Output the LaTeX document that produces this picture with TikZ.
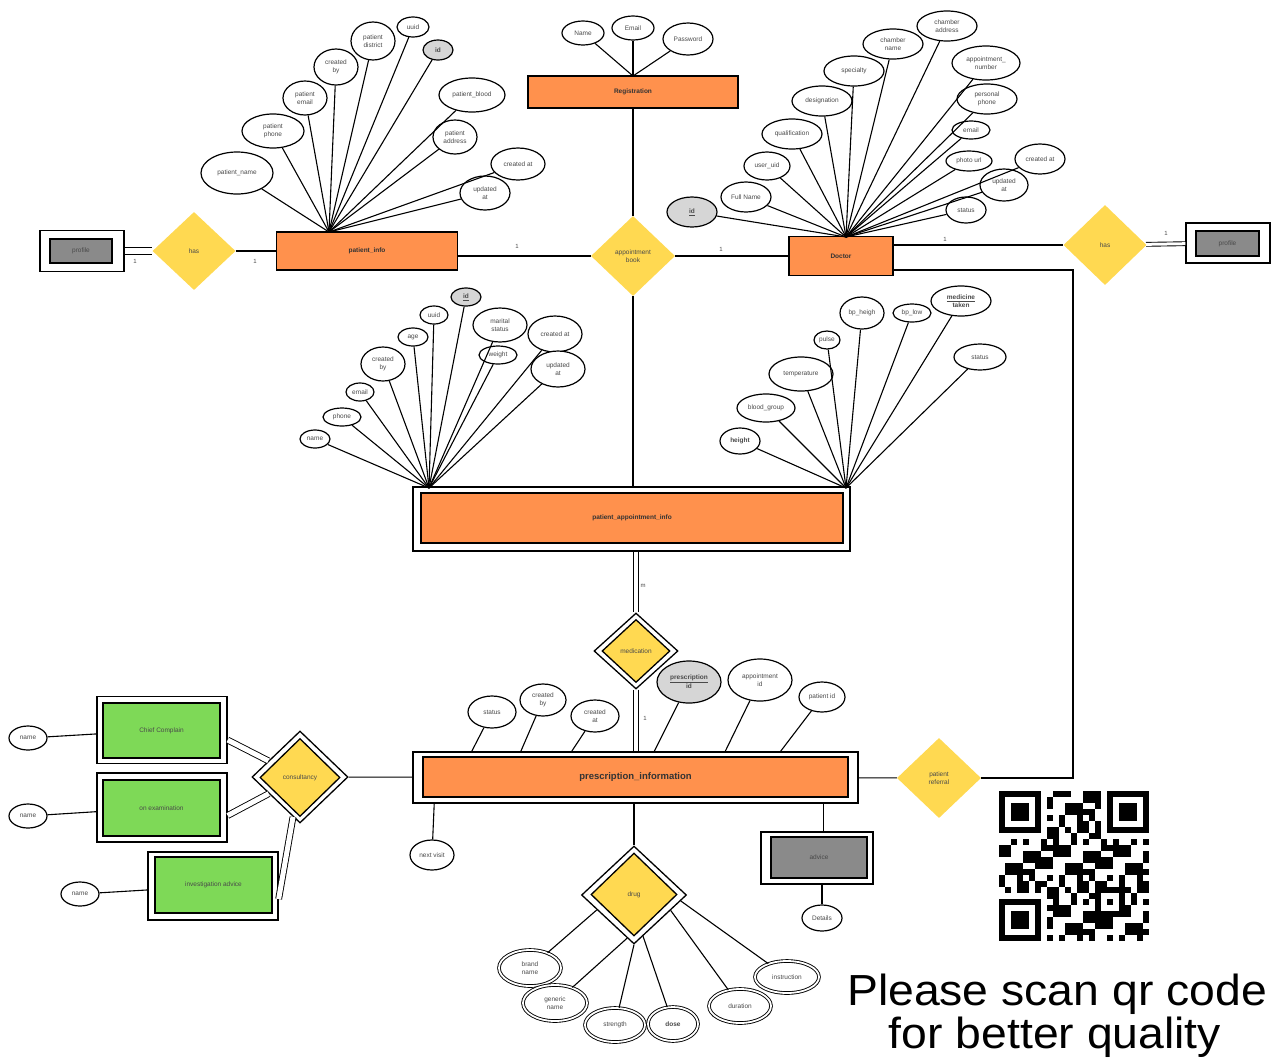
\documentclass[tikz,border=0pt]{standalone}
\usepackage{fontspec}
\setmainfont{Liberation Sans}
\newfontfamily\bigfont[FakeStretch=1.065]{Liberation Sans}
\usetikzlibrary{shapes.geometric,calc}
\definecolor{ora}{HTML}{FF914D}
\definecolor{gold}{HTML}{FFD951}
\definecolor{grn}{HTML}{7ED957}
\definecolor{dgray}{HTML}{8A8A8A}
\definecolor{lgray}{HTML}{D6D6D6}
\definecolor{txt}{HTML}{4A4A4A}
\tikzset{
  sz/.style 2 args={minimum width=#1pt, minimum height=#2pt},
  attr/.style={ellipse, draw, line width=1.2pt, fill=white, inner sep=0pt, align=center, font=\fontsize{6.5}{7.5}\selectfont, text=txt},
  pk/.style={fill=lgray},
  dattr/.style={ellipse, draw, line width=0.9pt, double, double distance=1.8pt, fill=white, inner sep=0pt, align=center, font=\fontsize{6.5}{7.5}\selectfont, text=txt},
  ent/.style={rectangle, draw, line width=1.3pt, fill=ora, inner sep=0pt, font=\bfseries\fontsize{6.5}{7.5}\selectfont, text=black!80},
  wbox/.style={rectangle, draw, line width=1.3pt, fill=white, inner sep=0pt},
  gbox/.style={rectangle, draw, line width=1.3pt, fill=dgray, inner sep=0pt, font=\fontsize{6.5}{7.5}\selectfont, text=txt},
  gnbox/.style={rectangle, draw, line width=1.3pt, fill=grn, inner sep=0pt, font=\fontsize{6.5}{7.5}\selectfont, text=txt},
  rel/.style={diamond, fill=gold, inner sep=0pt, align=center, font=\fontsize{6.5}{7.5}\selectfont, text=txt},
  wdia/.style={diamond, draw, line width=1.3pt, fill=white, inner sep=0pt},
  idia/.style={diamond, draw, line width=1.3pt, fill=gold, inner sep=0pt, align=center, font=\fontsize{6.5}{7.5}\selectfont, text=txt},
  conn/.style={line width=1.1pt},
  dconn/.style={line width=0.9pt, double, double distance=#1},
  dconn/.default=4pt,
  card/.style={font=\fontsize{6}{7}\selectfont, text=txt},
  bigtxt/.style={font=\bigfont\fontsize{43.5}{48}\selectfont, anchor=base, inner sep=0pt}
}
\begin{document}
\begin{tikzpicture}[x=1pt,y=-1pt]
\fill[white] (0,0) rectangle (1277,1061);
\useasboundingbox (0,0) rectangle (1277,1061);

% ---------------- patient_info ----------------
\node[wbox, sz={84}{41}] (lprof) at (82,251) {};
\node[gbox, sz={62}{24}] (lprofi) at (81,251) {profile};
\node[rel, sz={83}{78}] (lhas) at (194,251) {has};
\node[ent, sz={181}{38}] (pinfo) at (367,251) {patient\_info};
\draw[dconn=6pt] (lprof) -- (lhas);
\node[card] (c1) at (135,261) {1};
\draw[conn] (lhas) -- (pinfo);
\node[card] (c2) at (255,261) {1};

\coordinate (pih) at (329,232);
\node[attr, sz={72}{42}] (pa1) at (237,173) {patient\_name};
\node[attr, sz={62}{34}] (pa2) at (273,131) {patient\\phone};
\node[attr, sz={44}{34}] (pa3) at (305,98) {patient\\email};
\node[attr, sz={44}{36}] (pa4) at (336,67) {created\\by};
\node[attr, sz={44}{38}] (pa5) at (373,41) {patient\\district};
\node[attr, sz={32}{20}] (pa6) at (413,27) {uuid};
\node[attr, pk, sz={30}{20}] (pa7) at (438,50) {\textbf{id}};
\node[attr, sz={66}{34}] (pa8) at (472,95) {patient\_blood};
\node[attr, sz={44}{34}] (pa9) at (455,137) {patient\\address};
\node[attr, sz={54}{32}] (pa10) at (518,164) {created at};
\node[attr, sz={50}{34}] (pa11) at (485,193) {updated\\at};
\foreach \n in {pa1,pa2,pa3,pa4,pa5,pa6,pa7,pa8,pa9,pa10,pa11}
  \draw[conn] (pih) -- (\n);

% ---------------- Registration ----------------
\node[ent, sz={210}{32}] (reg) at (633,92) {Registration};
\coordinate (regh) at (633,76);
\node[attr, sz={42}{24}] (ra1) at (583,33) {Name};
\node[attr, sz={42}{24}] (ra2) at (633,28) {Email};
\node[attr, sz={50}{32}] (ra3) at (688,39) {Password};
\foreach \n in {ra1,ra2,ra3} \draw[conn] (regh) -- (\n);

% ---------------- appointment book ----------------
\node[rel, sz={84}{80}] (ab) at (633,256) {appointment\\book};
\draw[conn] (reg) -- (ab);
\draw[conn] (pinfo.east |- ab) -- (ab);
\node[card] (c3) at (517,246) {1};

% ---------------- Doctor ----------------
\node[ent, sz={104}{39}] (doc) at (841,256) {Doctor};
\draw[conn] (ab) -- (doc);
\node[card] (c4) at (721,249) {1};
\coordinate (doch) at (846,237);
\node[attr, pk, sz={50}{30}] (d1) at (692,212) {\underline{\textbf{id}}};
\node[attr, sz={50}{30}] (d2) at (746,197) {Full Name};
\node[attr, sz={46}{28}] (d3) at (767,166) {user\_uid};
\node[attr, sz={60}{30}] (d4) at (792,134) {qualification};
\node[attr, sz={60}{30}] (d5) at (822,101) {designation};
\node[attr, sz={60}{30}] (d6) at (854,71) {specialty};
\node[attr, sz={60}{30}] (d7) at (893,44) {chamber\\name};
\node[attr, sz={60}{30}] (d8) at (947,26) {chamber\\address};
\node[attr, sz={68}{34}] (d9) at (986,63) {appointment\_\\number};
\node[attr, sz={60}{30}] (d10) at (987,99) {personal\\phone};
\node[attr, sz={38}{18}] (d11) at (971,130) {email};
\node[attr, sz={46}{20}] (d12) at (969,161) {photo url};
\node[attr, sz={50}{30}] (d13) at (1040,159) {created at};
\node[attr, sz={48}{32}] (d14) at (1004,185) {updated\\at};
\node[attr, sz={40}{26}] (d15) at (966,210) {status};
\foreach \n in {d1,d2,d3,d4,d5,d6,d7,d8,d9,d10,d11,d12,d13,d14,d15}
  \draw[conn] (doch) -- (\n);

% right profile
\node[rel, sz={83}{80}] (rhas) at (1105,245) {has};
\draw[conn] (doc.east |- rhas) -- (rhas);
\node[card] (c5) at (945,239) {1};
\node[wbox, sz={84}{40}] (rprof) at (1228,243) {};
\node[gbox, sz={63}{25}] (rprofi) at (1227.5,243.5) {profile};
\draw[dconn=3pt] (rhas) -- (rprof);
\node[card] (c6) at (1166,233) {1};

% ---------------- patient_appointment_info ----------------
\node[wbox, sz={437}{64}] (pai) at (631.5,519) {};
\node[ent, sz={422}{50}] (paii) at (632,518) {patient\_appointment\_info};
\draw[conn] (ab) -- (ab |- pai.north);

\coordinate (plh) at (429,488);
\node[attr, sz={30}{18}] (pl1) at (315,439) {name};
\node[attr, sz={38}{18}] (pl2) at (342,417) {phone};
\node[attr, sz={28}{18}] (pl3) at (360,392) {email};
\node[attr, sz={44}{34}] (pl4) at (383,364) {created\\by};
\node[attr, sz={30}{18}] (pl5) at (413,337) {age};
\node[attr, sz={28}{18}] (pl6) at (434,315) {uuid};
\node[attr, pk, sz={30}{18}] (pl7) at (466,297) {\underline{\textbf{id}}};
\node[attr, sz={54}{34}] (pl8) at (500,325) {marital\\status};
\node[attr, sz={38}{18}] (pl9) at (498,355) {weight};
\node[attr, sz={54}{36}] (pl10) at (555,334) {created at};
\node[attr, sz={54}{36}] (pl11) at (558,369) {updated\\at};
\foreach \n in {pl1,pl2,pl3,pl4,pl5,pl6,pl7,pl8,pl9,pl10,pl11}
  \draw[conn] (plh) -- (\n);

\coordinate (prh) at (846,488);
\node[attr, sz={40}{26}] (pr1) at (740,441) {\textbf{height}};
\node[attr, sz={58}{28}] (pr2) at (766,408) {blood\_group};
\node[attr, sz={64}{34}] (pr3) at (801,374) {temperature};
\node[attr, sz={26}{18}] (pr4) at (827,340) {pulse};
\node[attr, sz={44}{32}] (pr5) at (862,313) {bp\_heigh};
\node[attr, sz={38}{18}] (pr6) at (912,313) {bp\_low};
\node[attr, sz={60}{30}] (pr7) at (961,301) {\textbf{\underline{medicine}}\\\textbf{taken}};
\node[attr, sz={52}{26}] (pr8) at (980,357) {status};
\foreach \n in {pr1,pr2,pr3,pr4,pr5,pr6,pr7,pr8}
  \draw[conn] (prh) -- (\n);

% ---------------- medication ----------------
\node[wdia, sz={84}{76}] (med) at (636,651) {};
\node[idia, sz={68}{63}] (medi) at (636,651) {medication};
\draw[dconn=4pt] (med |- pai.south) -- (med);
\node[card] (c7) at (643,586) {m};

% ---------------- prescription_information ----------------
\node[wbox, sz={445}{51}] (preso) at (635.5,777.5) {};
\node[ent, sz={425}{40}, font=\bfseries\fontsize{9.5}{11}\selectfont] (pres) at (635.5,777) {prescription\_information};
\draw[dconn=4pt] (med) -- (med |- preso.north);
\node[card] (c8) at (645,718) {1};

\node[attr, sz={48}{32}] (ps1) at (492,712) {status};
\node[attr, sz={46}{32}] (ps2) at (543,700) {created\\by};
\node[attr, sz={48}{32}] (ps3) at (595,716) {created\\at};
\node[attr, pk, sz={64}{42}] (ps4) at (689,682) {\textbf{\underline{prescription}}\\\textbf{id}};
\node[attr, sz={64}{42}] (ps5) at (760,680) {appointment\\id};
\node[attr, sz={46}{30}] (ps6) at (822,697) {patient id};
\coordinate (t1) at ($(preso.north west)!0.133!(preso.north east)$);
\coordinate (t2) at ($(preso.north west)!0.243!(preso.north east)$);
\coordinate (t3) at ($(preso.north west)!0.357!(preso.north east)$);
\coordinate (t4) at ($(preso.north west)!0.542!(preso.north east)$);
\coordinate (t5) at ($(preso.north west)!0.701!(preso.north east)$);
\coordinate (t6) at ($(preso.north west)!0.825!(preso.north east)$);
\draw[conn] (ps1) -- (t1);
\draw[conn] (ps2) -- (t2);
\draw[conn] (ps3) -- (t3);
\draw[conn] (ps4) -- (t4);
\draw[conn] (ps5) -- (t5);
\draw[conn] (ps6) -- (t6);

% next visit
\node[attr, sz={44}{30}] (nv) at (432,855) {next visit};
\coordinate (b1) at ($(preso.south west)!0.049!(preso.south east)$);
\draw[conn] (b1) -- (nv);

% advice
\node[wbox, sz={112}{52}] (advo) at (817,858) {};
\node[gbox, sz={96}{41}] (adv) at (819,857.5) {advice};
\coordinate (b2) at ($(preso.south west)!0.922!(preso.south east)$);
\draw[conn] (b2) -- (b2 |- advo.north);
\node[attr, sz={40}{26}] (det) at (822,918) {Details};
\draw[conn] (det |- advo.south) -- (det);

% patient referral
\node[rel, sz={84}{80}] (pref) at (939,778) {patient\\referral};
\draw[conn] (preso) -- (pref);
\coordinate (rc) at (1073,778);
\draw[conn] ([yshift=-14pt]doc.east) -| (rc) -- (pref);

% ---------------- consultancy ----------------
\node[wdia, sz={96}{92}] (cons) at (300,777) {};
\node[idia, sz={80}{78}] (consi) at (300,777.5) {consultancy};
\draw[conn] (cons) -- (preso);

\node[wbox, sz={130}{67}] (cco) at (162,730) {};
\node[gnbox, sz={117}{55}] (cc) at (161.5,730.5) {Chief Complain};
\node[wbox, sz={130}{69}] (oeo) at (162,807.5) {};
\node[gnbox, sz={117}{56}] (oe) at (161.5,808) {on examination};
\node[wbox, sz={130}{68}] (iao) at (213,886) {};
\node[gnbox, sz={117}{56}] (ia) at (213.5,885) {investigation advice};

\draw[dconn=5pt] ([yshift=-10pt]cco.east) -- (cons);
\draw[dconn=5pt] ([yshift=-8pt]oeo.east) -- (cons);
\draw[dconn=5pt] ([yshift=-13pt]iao.east) -- (cons);

\node[attr, sz={38}{24}] (n1) at (28,738) {name};
\node[attr, sz={38}{24}] (n2) at (28,816) {name};
\node[attr, sz={38}{24}] (n3) at (80,894) {name};
\draw[conn] (n1) -- (cco);
\draw[conn] (n2) -- (oeo);
\draw[conn] (n3) -- (iao);

% ---------------- drug ----------------
\node[wdia, sz={105}{98}] (drug) at (634,895) {};
\node[idia, sz={86}{83}] (drugi) at (634,894.5) {drug};
\draw[conn] (drug |- preso.south) -- (drug);
\node[dattr, sz={62}{36}] (g1) at (530,968) {brand\\name};
\node[dattr, sz={64}{36}] (g2) at (555,1003) {generic\\name};
\node[dattr, sz={60}{34}] (g3) at (615,1025) {strength};
\node[dattr, sz={50}{34}] (g4) at (673,1024) {\textbf{dose}};
\node[dattr, sz={62}{34}] (g5) at (740,1006) {duration};
\node[dattr, sz={64}{32}] (g6) at (787,977) {instruction};
\draw[conn] ($(drug.west)!0.3!(drug.south)$) -- (g1);
\draw[conn] ($(drug.west)!0.87!(drug.south)$) -- (g2);
\draw[conn] (drug.south) -- (g3);
\draw[conn] ($(drug.south)!0.17!(drug.east)$) -- (g4);
\draw[conn] ($(drug.south)!0.69!(drug.east)$) -- (g5);
\draw[conn] ($(drug.south)!0.88!(drug.east)$) -- (g6);

% ---------------- QR code ----------------
\begin{scope}[shift={(999,791)}]
  \foreach \i in {0,...,24}{
    \foreach \j in {0,...,24}{
      \pgfmathtruncatemacro\qrskip{((\i<8)&&(\j<8))||((\i>16)&&(\j<8))||((\i<8)&&(\j>16))}
      \pgfmathtruncatemacro\qrv{mod(\i*\i*7+\j*\j*3+\i*\j*11+\i*5+\j*13,10)}
      \ifnum\qrskip=0 \ifnum\qrv<5 \fill (\i*6,\j*6) rectangle ++(6,6); \fi\fi
    }}
  \foreach \a/\b in {0/0,108/0,0/108}{
    \fill[black] (\a,\b) rectangle ++(42,42);
    \fill[white] (\a+6,\b+6) rectangle ++(30,30);
    \fill[black] (\a+12,\b+12) rectangle ++(18,18);
  }
  \fill[black] (96,96) rectangle ++(30,30);
  \fill[white] (102,102) rectangle ++(18,18);
  \fill[black] (108,108) rectangle ++(6,6);
\end{scope}

\node[bigtxt, text depth=0pt] (q1) at (1057,1005) {Please scan qr code};
\node[bigtxt] (q2) at (1055,1048) {for better quality};
\end{tikzpicture}
\end{document}
